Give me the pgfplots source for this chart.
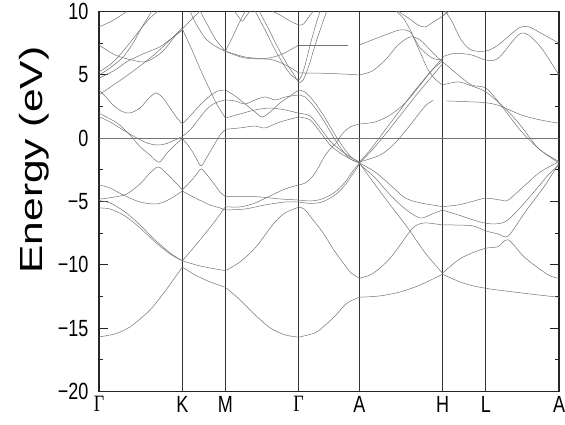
\documentclass[border=0pt]{standalone}
\usepackage{fontspec}
\setmainfont{Liberation Sans}
\newfontfamily\seriffont{Liberation Serif}
\usepackage{graphicx}
\usepackage{pgfplots}
\pgfplotsset{compat=1.18}
\newcommand{\tl}[1]{\scalebox{1}[1.3]{#1}}
\tikzset{band/.style={black!55, line width=0.5pt, smooth, tension=0.5}}
\begin{document}
\begin{tikzpicture}
\useasboundingbox (-99pt,-32.5pt) rectangle (466pt,391.5pt);
\begin{axis}[
  at={(0,0)}, anchor=south west,
  scale only axis, width=460pt, height=380pt,
  xmin=0, xmax=459.7, ymin=-20, ymax=10,
  enlargelimits=false, no markers,
  axis line style={line width=1.3pt, black!85},
  xtick={0,83.3,126.3,199.5,260.3,343.3,386.5,459.7},
  xticklabels={\tl{\seriffont Γ},\tl{K},\tl{M},\tl{\seriffont Γ},\tl{A},\tl{H},\tl{L},\tl{A}},
  major x tick style={draw=none},
  xmajorgrids, major x grid style={black!80, line width=0.75pt},
  ytick={-20,-15,...,10},
  yticklabels={\tl{−20},\tl{−15},\tl{−10},\tl{−5},\tl{0},\tl{5},\tl{10}},
  minor y tick num=1,
  ytick pos=both, yticklabel pos=left,
  tick align=inside,
  major tick length=9pt, minor tick length=4.5pt,
  y tick style={black!85, line width=0.8pt},
  every tick label/.append style={font=\fontsize{18}{18}\selectfont},
  yticklabel style={xshift=-7pt},
  xticklabel style={yshift=-1pt},
  ylabel={\scalebox{1.33}[1]{Energy (eV)}},
  ylabel style={font=\fontsize{32}{32}\selectfont, at={(axis description cs:-0.1413,0.609)}, anchor=center},
]
\addplot[black!55, line width=0.5pt] coordinates {(0,0) (459.7,0)};
% Gamma - K
\addplot[band] coordinates {(0,-15.69)(16,-15.45)(31,-14.90)(51,-13.56)(67,-11.98)(83.3,-10.17)};
\addplot[band] coordinates {(0,-4.93)(11,-5.11)(26,-5.82)(41,-6.85)(56,-8.03)(71,-9.06)(83.3,-9.69)};
\addplot[band] coordinates {(0,-5.51)(11,-5.59)(26,-6.14)(41,-7.09)(56,-8.19)(71,-9.14)(83.3,-9.69)};
\addplot[band] coordinates {(0,-4.82)(16,-4.64)(28,-4.40)(41,-3.61)(51,-2.75)(59,-2.27)(66,-2.67)(76,-3.46)(83.3,-4.09)};
\addplot[band] coordinates {(0,-3.69)(11,-3.93)(24,-4.48)(41,-5.04)(58,-5.19)(71,-4.80)(83.3,-4.17)};
\addplot[band] coordinates {(0,1.97)(18,1.20)(31,0.25)(41,-0.67)(51,-1.33)(60,-1.90)(68,-1.17)(76,-0.54)(83.3,-0.02)};
\addplot[band] coordinates {(0,1.70)(11,1.28)(24,0.65)(36,0.09)(48,-0.38)(58,-0.54)(66,-0.46)(76,-0.14)(83.3,0.13)};
\addplot[band] coordinates {(0,3.80)(7,3.25)(14,2.62)(23,2.11)(31,1.99)(41,2.38)(49,3.09)(57,3.57)(64,3.17)(71,2.38)(78,1.59)(83.3,1.12)};
\addplot[band] coordinates {(0,4.73)(16,5.38)(28,6.04)(46,6.72)(61,7.22)(73,7.91)(83.3,8.54)};
\addplot[band] coordinates {(0,3.41)(13,4.12)(26,4.83)(41,5.70)(56,6.65)(71,7.75)(83.3,8.70)};
\addplot[band] coordinates {(0,8.78)(11,9.17)(21,9.64)(28,10.04)(32,10.4)};
\addplot[band] coordinates {(0,7.36)(16,6.57)(33,6.17)(47,6.04)(63,6.80)(77,8.15)(83.3,8.54)};
\addplot[band] coordinates {(0,4.99)(11,5.54)(24,6.40)(34,7.51)(43,8.78)(51,9.80)(54,10.2)};
\addplot[band] coordinates {(0,5.22)(13,5.93)(25,6.96)(37,8.14)(49,9.33)(59,10.04)(63,10.3)};
% K - M
\addplot[band] coordinates {(83.3,-10.17)(96,-10.80)(111,-11.35)(126.3,-11.77)};
\addplot[band] coordinates {(83.3,-9.69)(101,-10.09)(116,-10.32)(126.3,-10.46)};
\addplot[band] coordinates {(83.3,-9.69)(101,-8.03)(116,-6.54)(126.3,-5.41)};
\addplot[band] coordinates {(83.3,-4.09)(91,-3.46)(97,-2.90)(102,-2.43)(108,-2.90)(115,-3.61)(121,-4.25)(126.3,-4.62)};
\addplot[band] coordinates {(83.3,-4.17)(96,-4.72)(111,-5.27)(121,-5.51)(126.3,-5.67)};
\addplot[band] coordinates {(83.3,-0.02)(91,-0.77)(97,-1.56)(102,-2.19)(108,-1.48)(115,-0.54)(121,0.25)(126.3,0.70)};
\addplot[band] coordinates {(83.3,0.13)(91,0.65)(99,1.44)(107,2.23)(116,2.78)(126.3,3.02)};
\addplot[band] coordinates {(83.3,1.12)(91,1.75)(101,2.62)(112,3.41)(119,3.73)(126.3,3.80)};
\addplot[band] coordinates {(83.3,8.62)(92,7.12)(102,5.30)(109,4.12)(117,2.78)(126.3,1.59)};
\addplot[band] coordinates {(83.3,8.62)(90.7,9.23)(95.7,9.62)(100.7,10.02)(103,10.3)};
\addplot[band] coordinates {(89,10.3)(91,10.04)(96,9.17)(106,7.91)(116,7.28)(126.3,6.86)};
\addplot[band] coordinates {(99,10.3)(101,10.04)(109,8.86)(117,7.75)(126.3,6.86)};
% M - Gamma
\addplot[band] coordinates {(126.3,-11.77)(141,-12.77)(156,-13.95)(171,-14.98)(186,-15.53)(199.5,-15.71)};
\addplot[band] coordinates {(126.3,-10.46)(141,-9.77)(156,-8.67)(166,-7.64)(176,-6.61)(186,-5.90)(199.5,-5.45)};
\addplot[band] coordinates {(126.3,-4.62)(146,-4.60)(161,-4.64)(181,-4.80)(199.5,-4.88)};
\addplot[band] coordinates {(126.3,-5.41)(141,-5.43)(156,-5.11)(171,-4.56)(186,-4.01)(199.5,-3.69)};
\addplot[band] coordinates {(126.3,-5.67)(146,-5.59)(166,-5.27)(186,-5.04)(199.5,-5.04)};
\addplot[band] coordinates {(126.3,0.70)(141,0.81)(156,0.96)(166,0.81)(181,1.28)(199.5,1.67)};
\addplot[band] coordinates {(126.3,3.80)(136,3.33)(146,2.70)(156,2.07)(163,1.67)(171,2.07)(181,2.78)(191,3.33)(199.5,3.80)};
\addplot[band] coordinates {(126.3,3.02)(136,2.94)(146,2.70)(156,3.02)(166,3.25)(176,3.02)(186,3.25)(199.5,3.41)};
\addplot[band] coordinates {(126.3,1.59)(141,1.91)(156,2.23)(171,2.38)(186,2.23)(199.5,1.97)};
\addplot[band] coordinates {(126.3,6.86)(145.7,6.33)(172.3,6.20)(189,5.67)(199.5,5.15)};
\addplot[band] coordinates {(126.3,6.86)(133,7.91)(139,8.93)(144,9.72)(147,10.11)};
\addplot[band] coordinates {(133,10.3)(135,10.04)(139,9.64)(143,9.23)(147,9.64)(151,10.04)(153,10.3)};
\addplot[band] coordinates {(126.3,6.86)(146,6.41)(166,6.29)(181,6.57)(191,6.96)(199.5,7.36)};
\addplot[band] coordinates {(154,10.3)(156,10.04)(166,8.54)(176,6.96)(186,5.62)(193,4.91)(199.5,4.59)};
\addplot[band] coordinates {(158,10.3)(160,10.04)(170,8.54)(180,6.96)(189,5.70)(195,4.99)(199.5,4.36)};
\addplot[band] coordinates {(170,10.3)(173,10.04)(181,9.72)(191,9.25)(199.5,8.93)};
% Gamma - A
\addplot[band] coordinates {(199.5,-15.71)(216,-15.37)(224.3,-14.88)(236,-14.03)(247.7,-13.03)(260.3,-12.56)};
\addplot[band] coordinates {(199.5,-5.45)(205,-5.59)(214,-6.46)(224,-7.48)(234,-8.75)(244,-9.85)(252,-10.64)(260.3,-11.06)};
\addplot[band] coordinates {(199.5,-4.88)(211,-4.96)(223,-4.80)(236,-4.25)(246,-3.46)(253,-2.67)(260.3,-1.96)};
\addplot[band] coordinates {(199.5,-5.04)(211,-5.15)(223,-5.04)(236,-4.48)(246,-3.69)(253,-2.90)(260.3,-2.04)};
\addplot[band] coordinates {(199.5,-3.69)(206,-3.54)(213,-3.06)(219,-2.35)(225,-1.48)(231,-0.85)(237,-0.38)(243,0.33)(251,0.88)(260.3,1.12)};
\addplot[band] coordinates {(199.5,3.80)(206,3.65)(216,2.78)(226,1.59)(236,0.25)(246,-0.93)(253,-1.56)(260.3,-1.88)};
\addplot[band] coordinates {(199.5,3.41)(206,3.25)(216,2.38)(226,1.20)(236,-0.14)(246,-1.25)(253,-1.72)(260.3,-1.96)};
\addplot[band] coordinates {(199.5,1.97)(211,1.75)(221,0.81)(231,-0.22)(241,-0.93)(251,-1.48)(260.3,-1.88)};
\addplot[band] coordinates {(199.5,1.67)(211,1.44)(221,0.49)(231,-0.54)(241,-1.17)(251,-1.64)(260.3,-1.96)};
\addplot[band] coordinates {(199.5,8.93)(204.3,9.01)(211,9.72)(214.3,10.04)(216,10.3)};
\addplot[band] coordinates {(199.5,4.59)(202,4.83)(206,5.78)(211,7.36)(216,8.78)(221,10.04)(222,10.3)};
\addplot[band] coordinates {(199.5,4.36)(204,4.59)(210,5.78)(216,7.36)(222,8.78)(227.7,10.04)(229,10.3)};
\addplot[band] coordinates {(199.5,7.36)(248,7.36)};
\addplot[band] coordinates {(199.5,5.15)(231,5.11)(260.3,4.99)};
% A - H
\addplot[band] coordinates {(260.3,-12.56)(281,-12.45)(301,-12.14)(321,-11.59)(343.3,-10.74)};
\addplot[band] coordinates {(260.3,-11.06)(271,-10.80)(281,-10.24)(291,-9.46)(301,-8.43)(308,-7.64)(316,-6.93)(326,-6.69)(343.3,-6.85)};
\addplot[band] coordinates {(260.3,-1.96)(276,-2.67)(291,-3.69)(306,-4.72)(321,-5.11)(333,-5.27)(343.3,-5.41)};
\addplot[band] coordinates {(260.3,-2.04)(276,-3.14)(291,-4.48)(306,-5.59)(321,-6.30)(333,-5.98)(343.3,-5.67)};
\addplot[band] coordinates {(260.3,-1.96)(276,-3.69)(291,-5.27)(307.7,-6.99)(326,-9.06)(343.3,-10.66)};
\addplot[band] coordinates {(260.3,-1.88)(281,-1.33)(296,-0.38)(311,1.04)(326,2.54)(334,2.98)};
\addplot[band] coordinates {(260.3,-1.88)(271,-0.93)(286,0.65)(301,2.23)(316,3.80)(331,5.22)(343.3,6.33)};
\addplot[band] coordinates {(260.3,-1.96)(273,-0.93)(288,0.49)(303,1.99)(318,3.49)(333,4.91)(343.3,5.86)};
\addplot[band] coordinates {(260.3,1.12)(276,1.28)(291,1.83)(306,2.78)(321,4.20)(333,5.38)(343.3,6.09)};
\addplot[band] coordinates {(260.3,7.36)(278,7.91)(291,8.30)(301,8.54)(311,8.38)(321,7.12)(333,6.33)(343.3,6.17)};
\addplot[band] coordinates {(260.3,4.99)(273,5.30)(286,6.17)(299,7.36)(311,7.99)(321,7.75)(331,6.96)(343.3,6.01)};
\addplot[band] coordinates {(295,10.3)(297,10.04)(304,9.49)(311,8.54)(319,7.12)(329,5.38)(337,4.59)(343.3,4.20)};
\addplot[band] coordinates {(297,10.3)(299,10.04)(309,9.49)(319,8.93)(326,8.78)(334,9.17)(343.3,9.64)(348,10.04)(350,10.3)};
% H - L - A
\addplot[band] coordinates {(343.3,-5.41)(359,-5.27)(371,-5.04)(386.5,-4.74)(401,-4.88)(409,-4.88)(426,-3.69)(441,-2.67)(459.7,-1.85)};
\addplot[band] coordinates {(343.3,-5.67)(359,-6.06)(386.5,-6.72)(406,-6.59)(426,-5.04)(449,-2.90)(459.7,-2.12)};
\addplot[band] coordinates {(343.3,-6.85)(372.3,-6.91)(386.5,-7.32)(399,-7.56)(409,-7.72)(426,-5.82)(446,-3.69)(459.7,-1.96)};
\addplot[band] coordinates {(343.3,-10.66)(359,-9.61)(372.3,-9.08)(386.5,-8.69)(399,-8.56)(409,-8.03)(426,-9.46)(449,-10.80)(459.7,-11.06)};
\addplot[band] coordinates {(343.3,-10.74)(364.3,-11.45)(386.3,-11.85)(424.3,-12.24)(459.7,-12.56)};
\addplot[band] coordinates {(343.3,9.64)(349,9.96)(354,10.3)};
\addplot[band] coordinates {(344,10.3)(346,10.04)(353,9.17)(362,7.75)(372,6.96)(386.5,6.88)(399,7.36)(419,8.67)(429,8.80)(439,8.41)(459.7,7.49)};
\addplot[band] coordinates {(343.3,6.43)(355.7,6.70)(372.3,6.57)(386.5,6.17)(399,6.31)(419,8.15)(429,8.15)(442.3,7.10)(459.7,4.99)};
\addplot[band] coordinates {(343.3,6.04)(359,4.99)(372.3,4.20)(386.5,3.96)(399,2.88)(422.3,0.51)(441,-0.93)(459.7,-1.85)};
\addplot[band] coordinates {(343.3,4.20)(359,4.44)(372.3,4.12)(386.5,3.65)(405.7,2.36)(421,1.04)(439,-0.80)(459.7,-1.96)};
\addplot[band] coordinates {(347.3,2.94)(361,2.90)(386.5,2.80)(401,2.54)(422,1.83)(441,1.44)(459.7,1.18)};
\end{axis}
\end{tikzpicture}
\end{document}
